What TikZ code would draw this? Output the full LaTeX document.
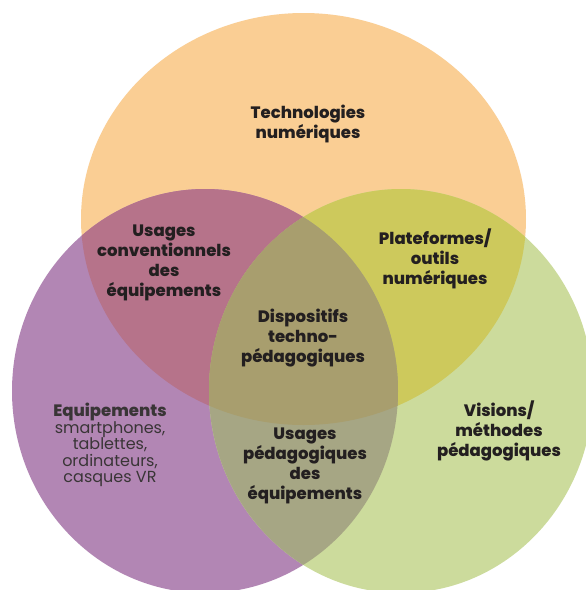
\documentclass[tikz,border=0pt]{standalone}
\usepackage{fontspec}
\setmainfont{Poppins}[BoldFont={Poppins ExtraBold}]
\definecolor{corange}{HTML}{FACE94}
\definecolor{cpurple}{HTML}{B286B4}
\definecolor{cgreen}{HTML}{CCDB9C}
\definecolor{cop}{HTML}{B6738A}
\definecolor{cog}{HTML}{CDC95C}
\definecolor{cpg}{HTML}{A6A684}
\definecolor{copg}{HTML}{A89E6E}
\definecolor{ctext}{HTML}{231F20}
\begin{document}
\begin{tikzpicture}[x=1pt,y=-1pt,
  lbl/.style={align=center, font=\fontsize{16.5}{20}\selectfont\bfseries, text=ctext, inner sep=0pt},
  lblreg/.style={align=center, font=\fontsize{16}{16.5}\selectfont, text=ctext!90, inner sep=0pt}]
\useasboundingbox (0,0) rectangle (586,590);
\fill[white] (0,0) rectangle (586,590);
% base circles
\fill[corange] (303.5,219) ellipse [x radius=222.5, y radius=206];
\fill[cpurple] (205,391) ellipse [x radius=193, y radius=202];
\fill[cgreen] (401,391) ellipse [x radius=192, y radius=202];
% overlaps
\begin{scope}
  \clip (303.5,219) ellipse [x radius=222.5, y radius=206];
  \fill[cop] (205,391) ellipse [x radius=193, y radius=202];
\end{scope}
\begin{scope}
  \clip (303.5,219) ellipse [x radius=222.5, y radius=206];
  \fill[cog] (401,391) ellipse [x radius=192, y radius=202];
\end{scope}
\begin{scope}
  \clip (205,391) ellipse [x radius=193, y radius=202];
  \fill[cpg] (401,391) ellipse [x radius=192, y radius=202];
\end{scope}
\begin{scope}
  \clip (303.5,219) ellipse [x radius=222.5, y radius=206];
  \clip (205,391) ellipse [x radius=193, y radius=202];
  \fill[copg] (401,391) ellipse [x radius=192, y radius=202];
\end{scope}
% labels
\node[lbl] (tech) at (308,124) {Technologies\\numériques};
\node[lbl] (usconv) at (164,263) {Usages\\conventionnels\\des\\équipements};
\node[lbl] (plat) at (435,259) {Plateformes/\\outils\\numériques};
\node[lbl] (disp) at (303,338) {Dispositifs\\techno-\\pédagogiques};
\node[lblreg] (equip) at (110,445) {{\fontsize{16.5}{16.5}\selectfont\bfseries Equipements}\\smartphones,\\tablettes,\\ordinateurs,\\casques VR};
\node[lbl] (uspeda) at (305,466) {Usages\\pédagogiques\\des\\équipements};
\node[lbl] (vis) at (499,431) {Visions/\\méthodes\\pédagogiques};
\end{tikzpicture}
\end{document}
